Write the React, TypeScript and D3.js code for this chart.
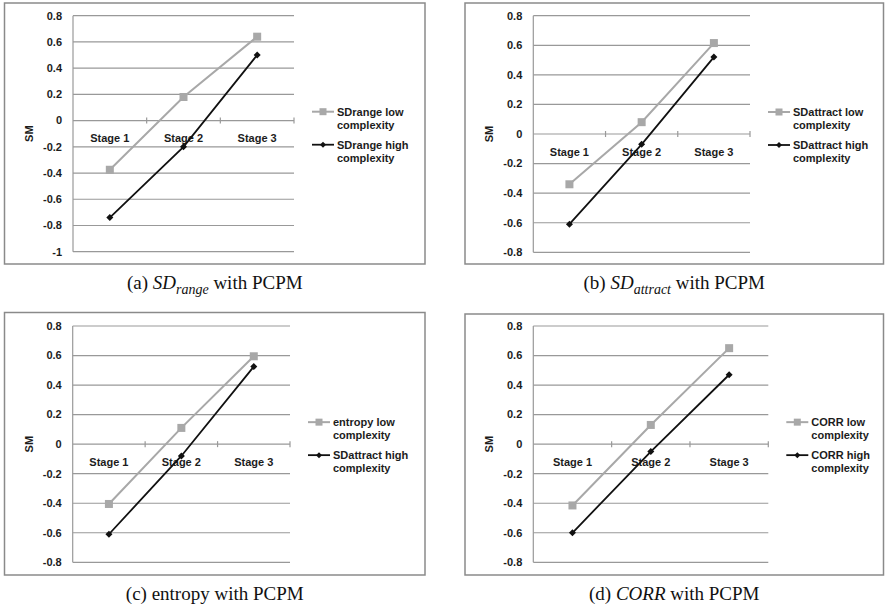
import React from "react";
import * as d3 from "d3";

// ---- data ----
const stages = ["Stage 1", "Stage 2", "Stage 3"];

const sdRangeLow = [-0.375, 0.18, 0.64];
const sdRangeHigh = [-0.74, -0.2, 0.5];
const sdAttractLow = [-0.34, 0.08, 0.615];
const sdAttractHigh = [-0.61, -0.07, 0.52];
const entropyLow = [-0.405, 0.11, 0.595];
const entropyHigh = [-0.61, -0.08, 0.525];
const corrLow = [-0.415, 0.13, 0.65];
const corrHigh = [-0.6, -0.05, 0.47];

const ticksA = [0.8, 0.6, 0.4, 0.2, 0, -0.2, -0.4, -0.6, -0.8, -1];
const ticksB = [0.8, 0.6, 0.4, 0.2, 0, -0.2, -0.4, -0.6, -0.8];

const legendA = [["SDrange low", "complexity"], ["SDrange high", "complexity"]];
const legendB = [["SDattract low", "complexity"], ["SDattract high", "complexity"]];
const legendC = [["entropy low", "complexity"], ["SDattract high", "complexity"]];
const legendD = [["CORR low", "complexity"], ["CORR high", "complexity"]];

const yAxisTitle = "SM";

// ---- layout ----
const panels = [
  {
    id: "a", low: sdRangeLow, high: sdRangeHigh, ticks: ticksA, legend: legendA,
    frame: { x: 4.5, y: 3, w: 420.5, h: 261 },
    plot: { l: 73, r: 294, t: 15.7, b: 251.7 },
    caption: [{ t: "(a) " }, { t: "SD", i: true }, { t: "range", i: true, sub: true }, { t: " with PCPM" }],
  },
  {
    id: "b", low: sdAttractLow, high: sdAttractHigh, ticks: ticksB, legend: legendB,
    frame: { x: 465, y: 3, w: 418.5, h: 261 },
    plot: { l: 533.3, r: 750, t: 15.7, b: 252.3 },
    caption: [{ t: "(b) " }, { t: "SD", i: true }, { t: "attract", i: true, sub: true }, { t: " with PCPM" }],
  },
  {
    id: "c", low: entropyLow, high: entropyHigh, ticks: ticksB, legend: legendC,
    frame: { x: 4.5, y: 312.5, w: 420.5, h: 262.5 },
    plot: { l: 72.7, r: 290, t: 326, b: 562.3 },
    caption: [{ t: "(c) entropy with PCPM" }],
  },
  {
    id: "d", low: corrLow, high: corrHigh, ticks: ticksB, legend: legendD,
    frame: { x: 465, y: 314, w: 418.5, h: 261 },
    plot: { l: 533.3, r: 768.3, t: 326, b: 562.3 },
    caption: [{ t: "(d) " }, { t: "CORR", i: true }, { t: " with PCPM" }],
  },
];

const SANS = "'Liberation Sans', Arial, sans-serif";
const SERIF = "'Liberation Serif', 'Times New Roman', serif";
const GRID = "#999999";
const LOW = "#a8a8a8";
const HIGH = "#111111";
const TXT = "#1c1c1c";

const fmt = (v: number) => String(Math.round(v * 10) / 10);

function Panel({ p }: { p: any }) {
  const { plot, frame } = p;
  const dom = d3.extent(p.ticks as number[]) as [number, number];
  const y = d3.scaleLinear().domain(dom).range([plot.b, plot.t]);
  const x = d3.scaleBand().domain(stages).range([plot.l, plot.r]).padding(0);
  const cx = (s: string) => (x(s) as number) + x.bandwidth() / 2;
  const line = d3.line<number>().x((_, i) => cx(stages[i])).y((v) => y(v));
  const y0 = y(0);
  const cy = (plot.t + plot.b) / 2;
  const legRows = [cy - 22, cy - 9, cy + 11, cy + 24];
  const lx0 = plot.r + 18;
  const lx1 = plot.r + 40;
  const tx = plot.r + 43;
  const diamond = (X: number, Y: number, s: number) =>
    `M${X},${Y - s}L${X + s},${Y}L${X},${Y + s}L${X - s},${Y}Z`;
  const boundaries = [1, 2, 3].map((k) => plot.l + k * x.bandwidth());

  return (
    <g>
      <rect x={frame.x} y={frame.y} width={frame.w} height={frame.h} fill="#fff" stroke="#8a8a8a" strokeWidth={1.5} />
      {p.ticks.map((t: number) => (
        <line key={"g" + t} x1={plot.l} x2={plot.r} y1={y(t)} y2={y(t)} stroke={GRID} strokeWidth={1.2} />
      ))}
      <line x1={plot.l} x2={plot.l} y1={plot.t} y2={plot.b} stroke={GRID} strokeWidth={1.2} />
      {boundaries.map((bx, i) => (
        <line key={"xt" + i} x1={bx} x2={bx} y1={y0 - 3} y2={y0 + 3} stroke={GRID} strokeWidth={1.2} />
      ))}
      {p.ticks.map((t: number) => (
        <text key={"t" + t} x={plot.l - 11} y={y(t)} dy="0.35em" textAnchor="end" fontFamily={SANS} fontWeight="bold" fontSize={11} fill={TXT}>
          {fmt(t)}
        </text>
      ))}
      <text transform={`translate(${plot.l - 44},${cy}) rotate(-90)`} textAnchor="middle" dy="0.35em" fontFamily={SANS} fontWeight="bold" fontSize={11} fill={TXT}>
        {yAxisTitle}
      </text>
      {stages.map((s) => (
        <text key={s} x={cx(s)} y={y0 + 18} dy="0.35em" textAnchor="middle" fontFamily={SANS} fontWeight="bold" fontSize={11} fill={TXT}>
          {s}
        </text>
      ))}
      <path d={line(p.low) as string} fill="none" stroke={LOW} strokeWidth={2} />
      <path d={line(p.high) as string} fill="none" stroke={HIGH} strokeWidth={1.8} />
      {p.low.map((v: number, i: number) => (
        <rect key={"l" + i} x={cx(stages[i]) - 4} y={y(v) - 4} width={8} height={8} fill={LOW} />
      ))}
      {p.high.map((v: number, i: number) => (
        <path key={"h" + i} d={diamond(cx(stages[i]), y(v), 3.5)} fill={HIGH} />
      ))}
      {/* legend */}
      <line x1={lx0} x2={lx1} y1={legRows[0]} y2={legRows[0]} stroke={LOW} strokeWidth={2} />
      <rect x={(lx0 + lx1) / 2 - 3.5} y={legRows[0] - 3.5} width={7} height={7} fill={LOW} />
      <line x1={lx0} x2={lx1} y1={legRows[2]} y2={legRows[2]} stroke={HIGH} strokeWidth={1.8} />
      <path d={diamond((lx0 + lx1) / 2, legRows[2], 3)} fill={HIGH} />
      {p.legend.map((entry: string[], k: number) =>
        entry.map((ln, j) => (
          <text key={"lg" + k + j} x={tx} y={legRows[k * 2 + j]} dy="0.35em" fontFamily={SANS} fontWeight="bold" fontSize={11} fill={TXT}>
            {ln}
          </text>
        ))
      )}
      <text x={frame.x + frame.w / 2} y={frame.y + frame.h + 25} textAnchor="middle" fontFamily={SERIF} fontSize={19} fill="#111">
        {p.caption.map((c: any, i: number) => {
          const prev = i > 0 ? p.caption[i - 1] : null;
          let dy: number | undefined = undefined;
          if (c.sub) dy = 5;
          else if (prev && prev.sub) dy = -5;
          return (
            <tspan key={i} fontStyle={c.i ? "italic" : "normal"} fontSize={c.sub ? 14 : 19} dy={dy}>
              {c.t}
            </tspan>
          );
        })}
      </text>
    </g>
  );
}

export default function App() {
  return (
    <svg width={885} height={610} style={{ position: "absolute", left: 0, top: 0, background: "#fff" }}>
      <rect x={0} y={0} width={885} height={610} fill="#fff" />
      {panels.map((p) => (
        <Panel key={p.id} p={p} />
      ))}
    </svg>
  );
}
